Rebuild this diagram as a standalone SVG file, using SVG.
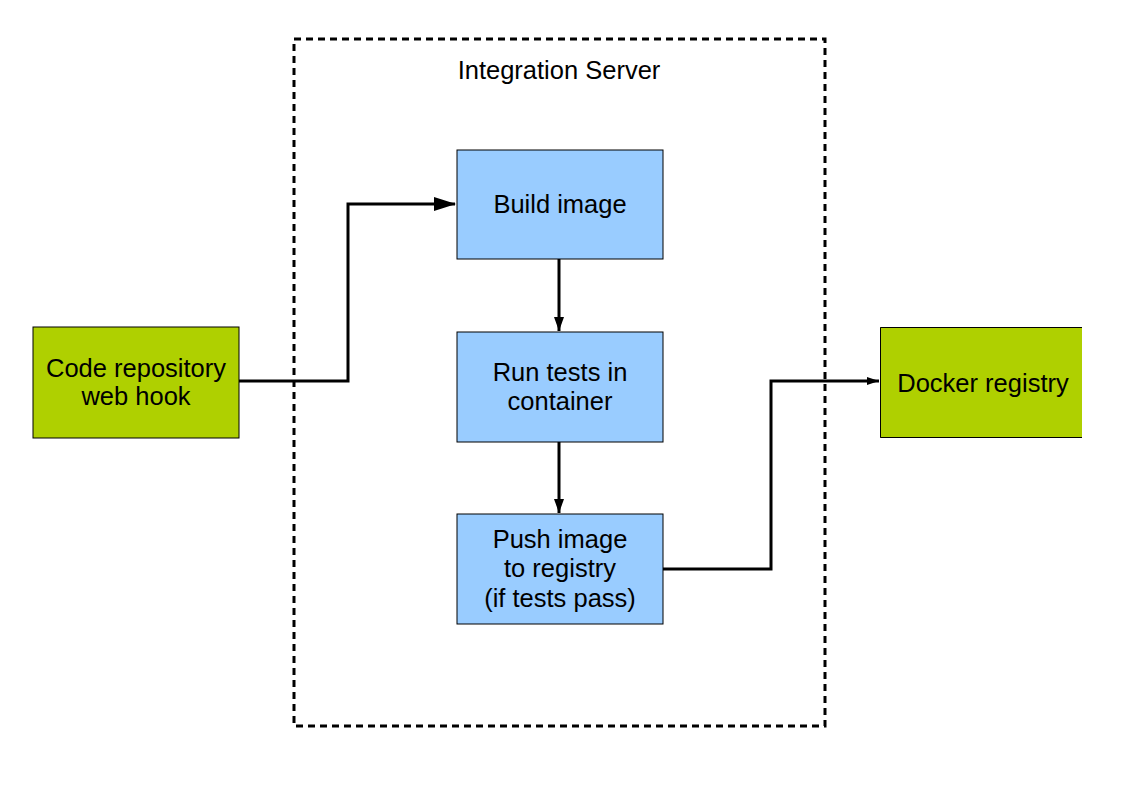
<svg xmlns="http://www.w3.org/2000/svg" width="1123" height="794" viewBox="0 0 1123 794">
<style>
text{font-family:"Liberation Sans",Arial,sans-serif;font-size:25.5px;fill:#000;text-anchor:middle}
.blue{fill:#99ccff;stroke:#000;stroke-width:1}
.green{fill:#afd000;stroke:#000;stroke-width:1}
.conn{fill:none;stroke:#000;stroke-width:3}
</style>
<defs>
<marker id="aBig" markerUnits="userSpaceOnUse" markerWidth="22" markerHeight="14" refX="21" refY="7" orient="auto"><path d="M0,0 L22,7 L0,14 Z" fill="#000"/></marker>
<marker id="aMid" markerUnits="userSpaceOnUse" markerWidth="14" markerHeight="10" refX="14" refY="5" orient="auto"><path d="M0,0 L14,5 L0,10 Z" fill="#000"/></marker>
<marker id="aSmall" markerUnits="userSpaceOnUse" markerWidth="12" markerHeight="8" refX="12" refY="4" orient="auto"><path d="M0,0 L12,4 L0,8 Z" fill="#000"/></marker>
</defs>
<rect width="1123" height="794" fill="#fff"/>
<g id="integration-server">
<rect x="294" y="39" width="531" height="687" fill="none" stroke="#000" stroke-width="3" stroke-dasharray="7 5"/>
<text x="559" y="79">Integration Server</text>
</g>
<g id="connectors">
<path class="conn" d="M239,381 H348 V204 H455" marker-end="url(#aBig)"/>
<path class="conn" d="M559,259 V331" marker-end="url(#aMid)"/>
<path class="conn" d="M559,442 V513" marker-end="url(#aMid)"/>
<path class="conn" d="M663,569 H771 V381 H879" marker-end="url(#aSmall)"/>
</g>
<g id="code-repo">
<rect class="green" x="33" y="327" width="206" height="111"/>
<text x="136" y="377">Code repository</text>
<text x="136" y="405">web hook</text>
</g>
<g id="build-image">
<rect class="blue" x="457" y="150" width="206" height="109"/>
<text x="560" y="213">Build image</text>
</g>
<g id="run-tests">
<rect class="blue" x="457" y="332" width="206" height="110"/>
<text x="560" y="381">Run tests in</text>
<text x="560" y="410">container</text>
</g>
<g id="push-image">
<rect class="blue" x="457" y="514" width="206" height="110"/>
<text x="560" y="548">Push image</text>
<text x="560" y="577">to registry</text>
<text x="560" y="607">(if tests pass)</text>
</g>
<g id="docker-registry">
<rect x="880" y="327" width="202" height="111" fill="#afd000"/>
<path d="M1082,327.5 H880.5 V437.5 H1082" fill="none" stroke="#000" stroke-width="1"/>
<text x="983" y="392">Docker registry</text>
</g>
</svg>
